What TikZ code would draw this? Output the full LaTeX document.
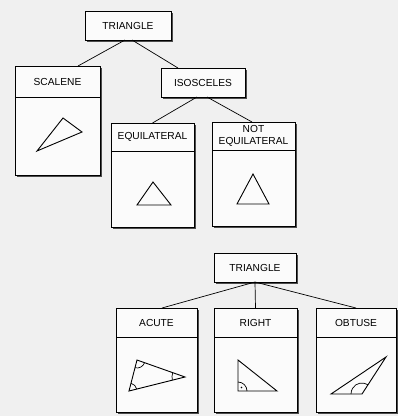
\documentclass[tikz,border=0pt]{standalone}
\usepackage{fontspec}
\setmainfont{Liberation Sans}
\usetikzlibrary{shadows,calc,angles}
\definecolor{paper}{gray}{0.94}
\definecolor{boxfill}{gray}{0.985}
\begin{document}
\begin{tikzpicture}[x=1pt,y=-1pt,
  box/.style={draw=black, line width=0.9pt, fill=boxfill, rectangle, inner sep=0pt, outer sep=0pt,
    drop shadow={shadow xshift=2.3pt, shadow yshift=-2.3pt, opacity=1, fill=black!70}},
  lbl/.style={font=\fontsize{10.2}{12.5}\selectfont, inner sep=0pt, align=center},
  conn/.style={line width=0.7pt},
  divider/.style={line width=0.7pt},
  figline/.style={line width=0.9pt, line join=miter},
  ang/.style={draw, line width=0.7pt}]
\useasboundingbox (0,0) rectangle (398,416);
\fill[paper] (0,0) rectangle (398,416);

% ---------- top tree ----------
\node[box, minimum width=86pt, minimum height=29pt] (tri) at (128,25.5) {};
\node[lbl] (tril) at (tri.center) {TRIANGLE};

\node[box, minimum width=85pt, minimum height=109pt] (scal) at (57.5,120.5) {};
\node[lbl] (scall) at ($(scal.north)+(0,15.5)$) {SCALENE};
\draw[divider] ($(scal.north west)+(0,31)$) -- ($(scal.north east)+(0,31)$);

\node[box, minimum width=84pt, minimum height=29pt] (isos) at (203,82.5) {};
\node[lbl] (isosl) at (isos.center) {ISOSCELES};

\node[box, minimum width=83pt, minimum height=104pt] (eq) at (152.5,175) {};
\node[lbl] (eql) at ($(eq.north)+(0,14)$) {EQUILATERAL};
\draw[divider] ($(eq.north west)+(0,28)$) -- ($(eq.north east)+(0,28)$);

\node[box, minimum width=83pt, minimum height=104pt] (neq) at (253.5,174) {};
\node[lbl] (neql) at ($(neq.north)+(0,14)$) {NOT\\EQUILATERAL};
\draw[divider] ($(neq.north west)+(0,28)$) -- ($(neq.north east)+(0,28)$);

\draw[conn] ($(tri.south)+(-3,0)$) -- ($(scal.north)+(20.5,0)$);
\draw[conn] ($(tri.south)+(4,0)$) -- ($(isos.north)+(-25,0)$);
\draw[conn] ($(isos.south)+(-6,0)$) -- (eq.north);
\draw[conn] ($(isos.south)+(4,0)$) -- ($(neq.north)+(-1.5,0)$);

% triangles
\draw[figline] (37,151) -- (63,118) -- (82,132) -- cycle;
\draw[figline] (137,205) -- (153,182) -- (171,205) -- cycle;
\draw[figline] (237,204) -- (253,174) -- (269,204) -- cycle;

% ---------- bottom tree ----------
\node[box, minimum width=82pt, minimum height=29pt] (trib) at (255,267.5) {};
\node[lbl] (tribl) at (trib.center) {TRIANGLE};

\node[box, minimum width=81pt, minimum height=104pt] (acu) at (156.5,360) {};
\node[lbl] (acul) at ($(acu.north)+(0,14.5)$) {ACUTE};
\draw[divider] ($(acu.north west)+(0,29)$) -- ($(acu.north east)+(0,29)$);

\node[box, minimum width=83pt, minimum height=104pt] (rgt) at (255.5,360) {};
\node[lbl] (rgtl) at ($(rgt.north)+(0,14.5)$) {RIGHT};
\draw[divider] ($(rgt.north west)+(0,29)$) -- ($(rgt.north east)+(0,29)$);

\node[box, minimum width=80pt, minimum height=104pt] (obt) at (356,360) {};
\node[lbl] (obtl) at ($(obt.north)+(0,14.5)$) {OBTUSE};
\draw[divider] ($(obt.north west)+(0,29)$) -- ($(obt.north east)+(0,29)$);

\draw[conn] (trib.south) -- ($(acu.north)+(5.5,0)$);
\draw[conn] (trib.south) -- (rgt.north);
\draw[conn] (trib.south) -- (obt.north);

% acute triangle
\coordinate (aA) at (129,391);
\coordinate (aB) at (137,360);
\coordinate (aC) at (185,377);
\draw[figline] (aA) -- (aB) -- (aC) -- cycle;
\pic[ang, angle radius=8pt] {angle = aC--aA--aB};
\pic[ang, angle radius=8pt] {angle = aA--aB--aC};
\pic[ang, angle radius=13pt] {angle = aB--aC--aA};

% right triangle
\coordinate (rP) at (238,360);
\coordinate (rQ) at (238,391);
\coordinate (rR) at (277,391);
\draw[figline] (rP) -- (rQ) -- (rR) -- cycle;
\pic[ang, angle radius=9pt] {angle = rR--rQ--rP};
\fill (241.5,387.5) circle (0.9pt);

% obtuse triangle
\coordinate (o1) at (331,394);
\coordinate (o2) at (386,357);
\coordinate (o3) at (362,394);
\draw[figline] (o1) -- (o2) -- (o3) -- cycle;
\pic[ang, angle radius=11pt] {angle = o2--o3--o1};
\end{tikzpicture}
\end{document}
